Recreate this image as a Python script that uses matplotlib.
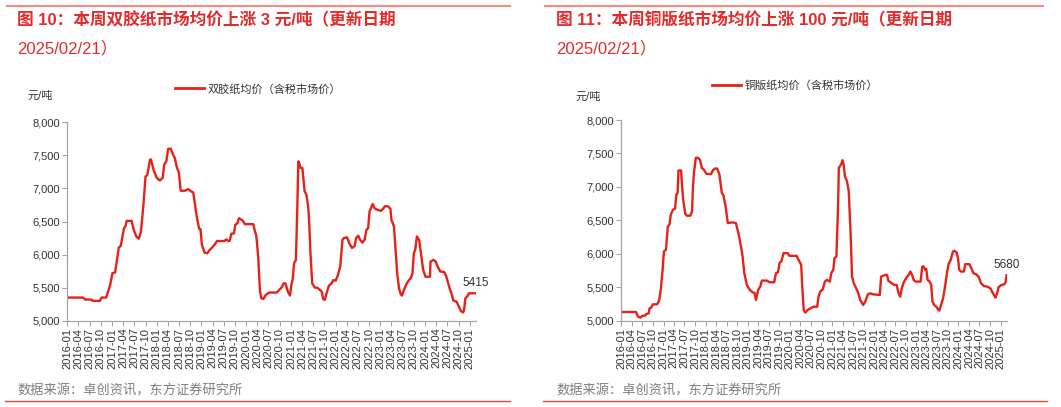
import pandas as pd
import matplotlib
matplotlib.use('Agg')
import matplotlib.pyplot as plt
from matplotlib.lines import Line2D
from matplotlib.ticker import FuncFormatter

plt.rcParams['font.family'] = ['Liberation Sans', 'Noto Sans CJK SC', 'DejaVu Sans']

RED = '#e62117'
TITLE_RED = '#e42a2a'
TEXT = '#333333'
GRAY = '#7f7f7f'
SPINE = '#a6a6a6'

###############################################################################
# Data (weekly price, yuan/ton)
offset_dates = [
    '2016-01-01', '2016-05-10', '2016-05-25', '2016-07-15', '2016-07-29', '2016-09-23',
    '2016-10-08', '2016-11-14', '2016-12-16', '2017-01-04', '2017-01-26', '2017-02-14',
    '2017-02-25', '2017-03-13', '2017-04-08', '2017-04-22', '2017-04-30', '2017-06-09',
    '2017-06-27', '2017-07-19', '2017-08-07', '2017-08-25', '2017-09-13', '2017-10-01',
    '2017-10-15', '2017-11-07', '2017-11-14', '2017-12-06', '2018-01-01', '2018-01-26',
    '2018-02-18', '2018-03-02', '2018-03-20', '2018-04-04', '2018-04-26', '2018-05-14',
    '2018-05-28', '2018-06-13', '2018-07-01', '2018-07-15', '2018-08-18', '2018-09-16',
    '2018-10-08', '2018-10-26', '2018-11-14', '2018-11-28', '2018-12-13', '2018-12-24',
    '2019-01-04', '2019-01-26', '2019-02-18', '2019-03-09', '2019-04-04', '2019-04-22',
    '2019-05-07', '2019-07-08', '2019-07-22', '2019-08-07', '2019-08-18', '2019-09-02',
    '2019-09-23', '2019-10-04', '2019-10-22', '2019-11-03', '2019-11-25', '2019-12-06',
    '2019-12-20', '2020-02-28', '2020-03-09', '2020-03-24', '2020-04-08', '2020-04-22',
    '2020-05-03', '2020-05-21', '2020-06-09', '2020-07-04', '2020-09-05', '2020-09-27',
    '2020-10-15', '2020-11-03', '2020-11-17', '2020-12-06', '2020-12-24', '2021-01-04',
    '2021-01-15', '2021-01-26', '2021-02-10', '2021-02-21', '2021-03-02', '2021-03-13',
    '2021-03-20', '2021-04-04', '2021-04-22', '2021-05-07', '2021-05-21', '2021-05-28',
    '2021-06-09', '2021-06-23', '2021-07-15', '2021-08-03', '2021-08-25', '2021-09-09',
    '2021-09-20', '2021-10-04', '2021-10-22', '2021-11-07', '2021-11-28', '2021-12-13',
    '2022-01-01', '2022-01-19', '2022-02-07', '2022-02-25', '2022-03-09', '2022-04-04',
    '2022-04-22', '2022-05-14', '2022-06-05', '2022-06-16', '2022-07-04', '2022-07-19',
    '2022-08-07', '2022-08-25', '2022-09-09', '2022-09-23', '2022-10-04', '2022-10-22',
    '2022-10-30', '2022-11-14', '2022-12-06', '2023-01-04', '2023-01-22', '2023-02-07',
    '2023-03-05', '2023-03-24', '2023-04-01', '2023-04-22', '2023-05-03', '2023-05-18',
    '2023-06-02', '2023-06-16', '2023-06-27', '2023-07-12', '2023-07-29', '2023-08-18',
    '2023-09-05', '2023-09-20', '2023-10-01', '2023-10-12', '2023-10-26', '2023-11-14',
    '2023-12-02', '2023-12-16', '2024-01-04', '2024-02-10', '2024-02-14', '2024-03-09',
    '2024-03-27', '2024-04-15', '2024-05-03', '2024-06-05', '2024-06-23', '2024-07-15',
    '2024-08-07', '2024-08-18', '2024-09-13', '2024-10-01', '2024-10-19', '2024-11-07',
    '2024-11-14', '2024-11-25', '2024-12-13', '2024-12-24', '2025-02-21',
]
offset_price = [
    5350, 5350, 5320, 5320, 5300, 5300,
    5350, 5350, 5540, 5720, 5730, 5970,
    6110, 6130, 6400, 6435, 6510, 6510,
    6375, 6270, 6240, 6350, 6730, 7180,
    7200, 7435, 7440, 7280, 7160, 7120,
    7160, 7360, 7410, 7600, 7600, 7510,
    7460, 7325, 7235, 6965, 6965, 6990,
    6955, 6940, 6690, 6525, 6390, 6385,
    6150, 6030, 6020, 6070, 6120, 6160,
    6205, 6205, 6230, 6205, 6205, 6315,
    6320, 6450, 6475, 6550, 6525, 6510,
    6460, 6460, 6375, 6285, 5970, 5465,
    5340, 5330, 5390, 5425, 5425, 5465,
    5500, 5565, 5565, 5440, 5380, 5540,
    5630, 5870, 5920, 6680, 7410, 7360,
    7310, 7310, 6955, 6905, 6730, 6550,
    6020, 5565, 5500, 5500, 5465, 5440,
    5330, 5315, 5440, 5530, 5565, 5615,
    5605, 5690, 5820, 6225, 6250, 6260,
    6170, 6100, 6130, 6250, 6285, 6225,
    6180, 6225, 6375, 6400, 6650, 6730,
    6765, 6700, 6680, 6660, 6690, 6730,
    6730, 6690, 6525, 6425, 6120, 5720,
    5490, 5400, 5380, 5465, 5540, 5605,
    5640, 5720, 6020, 6070, 6275, 6215,
    5970, 5770, 5665, 5665, 5895, 5920,
    5895, 5810, 5745, 5735, 5665, 5515,
    5390, 5305, 5290, 5220, 5145, 5125,
    5160, 5340, 5375, 5415, 5415,
]

coated_dates = [
    '2016-01-01', '2016-05-07', '2016-05-25', '2016-06-13', '2016-07-04', '2016-07-26',
    '2016-08-03', '2016-08-25', '2016-09-02', '2016-09-16', '2016-10-01', '2016-11-07',
    '2016-11-25', '2016-12-09', '2016-12-24', '2017-01-04', '2017-01-22', '2017-02-07',
    '2017-02-21', '2017-03-05', '2017-03-24', '2017-04-11', '2017-04-22', '2017-05-03',
    '2017-05-10', '2017-06-02', '2017-06-09', '2017-06-20', '2017-07-08', '2017-07-22',
    '2017-08-21', '2017-09-05', '2017-09-13', '2017-09-23', '2017-10-08', '2017-10-26',
    '2017-11-14', '2017-11-28', '2017-12-16', '2018-01-08', '2018-02-18', '2018-03-05',
    '2018-03-24', '2018-04-11', '2018-04-30', '2018-05-21', '2018-06-05', '2018-06-23',
    '2018-07-12', '2018-08-21', '2018-09-20', '2018-10-12', '2018-11-03', '2018-11-17',
    '2018-12-02', '2018-12-24', '2019-01-19', '2019-02-14', '2019-02-28', '2019-03-13',
    '2019-04-01', '2019-04-19', '2019-05-03', '2019-06-16', '2019-07-08', '2019-08-18',
    '2019-09-02', '2019-09-20', '2019-10-04', '2019-10-19', '2019-11-07', '2019-12-13',
    '2019-12-28', '2020-02-28', '2020-03-16', '2020-04-08', '2020-04-19', '2020-04-30',
    '2020-05-14', '2020-06-02', '2020-06-27', '2020-07-26', '2020-08-25', '2020-09-05',
    '2020-09-20', '2020-10-12', '2020-10-30', '2020-11-17', '2020-12-13', '2020-12-24',
    '2021-01-11', '2021-01-22', '2021-02-07', '2021-02-21', '2021-02-28', '2021-03-20',
    '2021-04-01', '2021-04-11', '2021-04-22', '2021-05-10', '2021-05-25', '2021-06-09',
    '2021-06-23', '2021-07-08', '2021-07-22', '2021-08-14', '2021-09-02', '2021-09-27',
    '2021-10-15', '2021-11-07', '2021-11-28', '2021-12-20', '2022-02-18', '2022-03-02',
    '2022-04-08', '2022-04-22', '2022-05-03', '2022-06-02', '2022-06-23', '2022-07-15',
    '2022-07-29', '2022-08-14', '2022-08-28', '2022-09-13', '2022-10-04', '2022-10-26',
    '2022-11-10', '2022-11-25', '2022-12-09', '2022-12-24', '2023-02-07', '2023-02-21',
    '2023-03-05', '2023-03-20', '2023-03-28', '2023-04-08', '2023-04-26', '2023-05-10',
    '2023-05-21', '2023-06-05', '2023-06-23', '2023-07-08', '2023-07-19', '2023-08-03',
    '2023-08-21', '2023-09-09', '2023-09-23', '2023-10-08', '2023-10-26', '2023-11-14',
    '2023-11-28', '2023-12-16', '2023-12-28', '2024-01-08', '2024-01-22', '2024-02-18',
    '2024-02-28', '2024-04-04', '2024-04-22', '2024-05-10', '2024-06-02', '2024-06-23',
    '2024-07-15', '2024-08-07', '2024-09-05', '2024-10-04', '2024-10-26', '2024-11-17',
    '2024-12-02', '2024-12-13', '2025-01-08', '2025-02-03', '2025-02-14', '2025-02-21',
]
coated_price = [
    5130, 5130, 5060, 5045, 5075, 5075,
    5100, 5110, 5185, 5195, 5245, 5245,
    5310, 5485, 5760, 6035, 6060, 6410,
    6435, 6585, 6660, 6675, 6885, 6910,
    7245, 7245, 7060, 6810, 6600, 6570,
    6570, 6635, 7010, 7235, 7435, 7435,
    7400, 7285, 7260, 7195, 7195, 7250,
    7275, 7275, 7185, 6910, 6870, 6710,
    6460, 6470, 6460, 6310, 6110, 5960,
    5710, 5535, 5460, 5420, 5420, 5310,
    5460, 5510, 5600, 5600, 5575, 5575,
    5710, 5725, 5870, 5885, 6010, 6010,
    5970, 5970, 5910, 5835, 5460, 5160,
    5120, 5160, 5185, 5210, 5210, 5360,
    5435, 5470, 5585, 5610, 5585, 5710,
    5760, 5935, 5960, 6660, 7285, 7335,
    7400, 7335, 7160, 7085, 6935, 6360,
    5660, 5560, 5510, 5420, 5310, 5235,
    5285, 5395, 5410, 5395, 5385, 5660,
    5685, 5685, 5600, 5560, 5535, 5535,
    5420, 5360, 5485, 5570, 5635, 5685,
    5735, 5685, 5610, 5585, 5585, 5810,
    5810, 5760, 5775, 5610, 5585, 5535,
    5285, 5235, 5210, 5170, 5150, 5235,
    5335, 5535, 5710, 5850, 5910, 6035,
    6045, 6020, 5935, 5760, 5735, 5735,
    5845, 5845, 5785, 5710, 5695, 5660,
    5560, 5520, 5510, 5485, 5410, 5345,
    5410, 5500, 5535, 5545, 5585, 5680,
]

y_ticks = [5000, 5500, 6000, 6500, 7000, 7500, 8000]
x_start, x_end = '2016-01-01', '2025-02-21'
x_ticks = pd.date_range('2016-01-01', '2025-01-01', freq='QS')

panels = [
    dict(rect=[0.0634, 0.2120, 0.3854, 0.4875], dates=offset_dates, price=offset_price,
         title='图 10：本周双胶纸市场均价上涨 3 元/吨（更新日期', sub='2025/02/21）',
         legend='双胶纸均价（含税市场价）', x0=17, unit_x=27, unit_y=96,
         leg_x=258, leg_y=89, line_x=(7, 510), bot_x=(5, 510)),
    dict(rect=[0.5856, 0.2120, 0.3631, 0.4931], dates=coated_dates, price=coated_price,
         title='图 11：本周铜版纸市场均价上涨 100 元/吨（更新日期', sub='2025/02/21）',
         legend='铜版纸均价（含税市场价）', x0=556, unit_x=576, unit_y=97,
         leg_x=795, leg_y=86, line_x=(545, 1043), bot_x=(543, 1047)),
]

W, H = 1061, 407
fig = plt.figure(figsize=(W / 100, H / 100), dpi=100)


def fx(px):
    return px / W


def fy(py):
    return 1 - py / H


for p in panels:
    ax = fig.add_axes(p['rect'])
    dates = pd.to_datetime(p['dates'])
    line, = ax.plot(dates, p['price'], color=RED, linewidth=1.7, solid_joinstyle='round')

    ax.set_xlim(pd.Timestamp(x_start), pd.Timestamp(x_end))
    ax.set_ylim(5000, 8000)
    ax.set_yticks(y_ticks)
    ax.yaxis.set_major_formatter(FuncFormatter(lambda v, pos: f'{v:,.0f}'))
    ax.set_xticks(x_ticks)
    ax.set_xticklabels([d.strftime('%Y-%m') for d in x_ticks], rotation=90)
    ax.tick_params(axis='both', labelsize=8, colors=SPINE, labelcolor=TEXT,
                   length=3.5, width=0.8, pad=1.5)
    for side in ['top', 'right']:
        ax.spines[side].set_visible(False)
    for side in ['left', 'bottom']:
        ax.spines[side].set_color(SPINE)
        ax.spines[side].set_linewidth(0.9)

    # last value label
    ax.annotate(f"{p['price'][-1]}", xy=(dates[-1], p['price'][-1]), xytext=(0, 3),
                textcoords='offset points', ha='center', va='bottom',
                fontsize=8.5, color=TEXT)

    # legend and unit
    fig.legend([Line2D([], [], color=RED, linewidth=2)], [p['legend']],
               loc='center', bbox_to_anchor=(fx(p['leg_x']), fy(p['leg_y'])),
               frameon=False, fontsize=8, handlelength=2.6, handletextpad=0.3,
               labelcolor=TEXT, borderpad=0)
    fig.text(fx(p['unit_x']), fy(p['unit_y']), '元/吨', fontsize=8, color=TEXT,
             ha='left', va='center')

    # titles
    fig.text(fx(p['x0']), fy(20), p['title'], fontsize=12, fontweight='bold',
             color=TITLE_RED, ha='left', va='center')
    fig.text(fx(p['x0']), fy(48), p['sub'], fontsize=12, color=TITLE_RED,
             ha='left', va='center')

    # source note
    fig.text(fx(p['x0']), fy(391), '数据来源：卓创资讯，东方证券研究所', fontsize=9.5,
             color=GRAY, ha='left', va='center')

    # decorative rules
    fig.add_artist(Line2D([fx(p['line_x'][0]), fx(p['line_x'][1])], [fy(5.5), fy(5.5)],
                          color='#f08a82', linewidth=1.5))
    fig.add_artist(Line2D([fx(p['bot_x'][0]), fx(p['bot_x'][1])], [fy(400.7), fy(400.7)],
                          color='#e8453c', linewidth=1.0))

fig.savefig('out.png', dpi=100)
plt.close()
